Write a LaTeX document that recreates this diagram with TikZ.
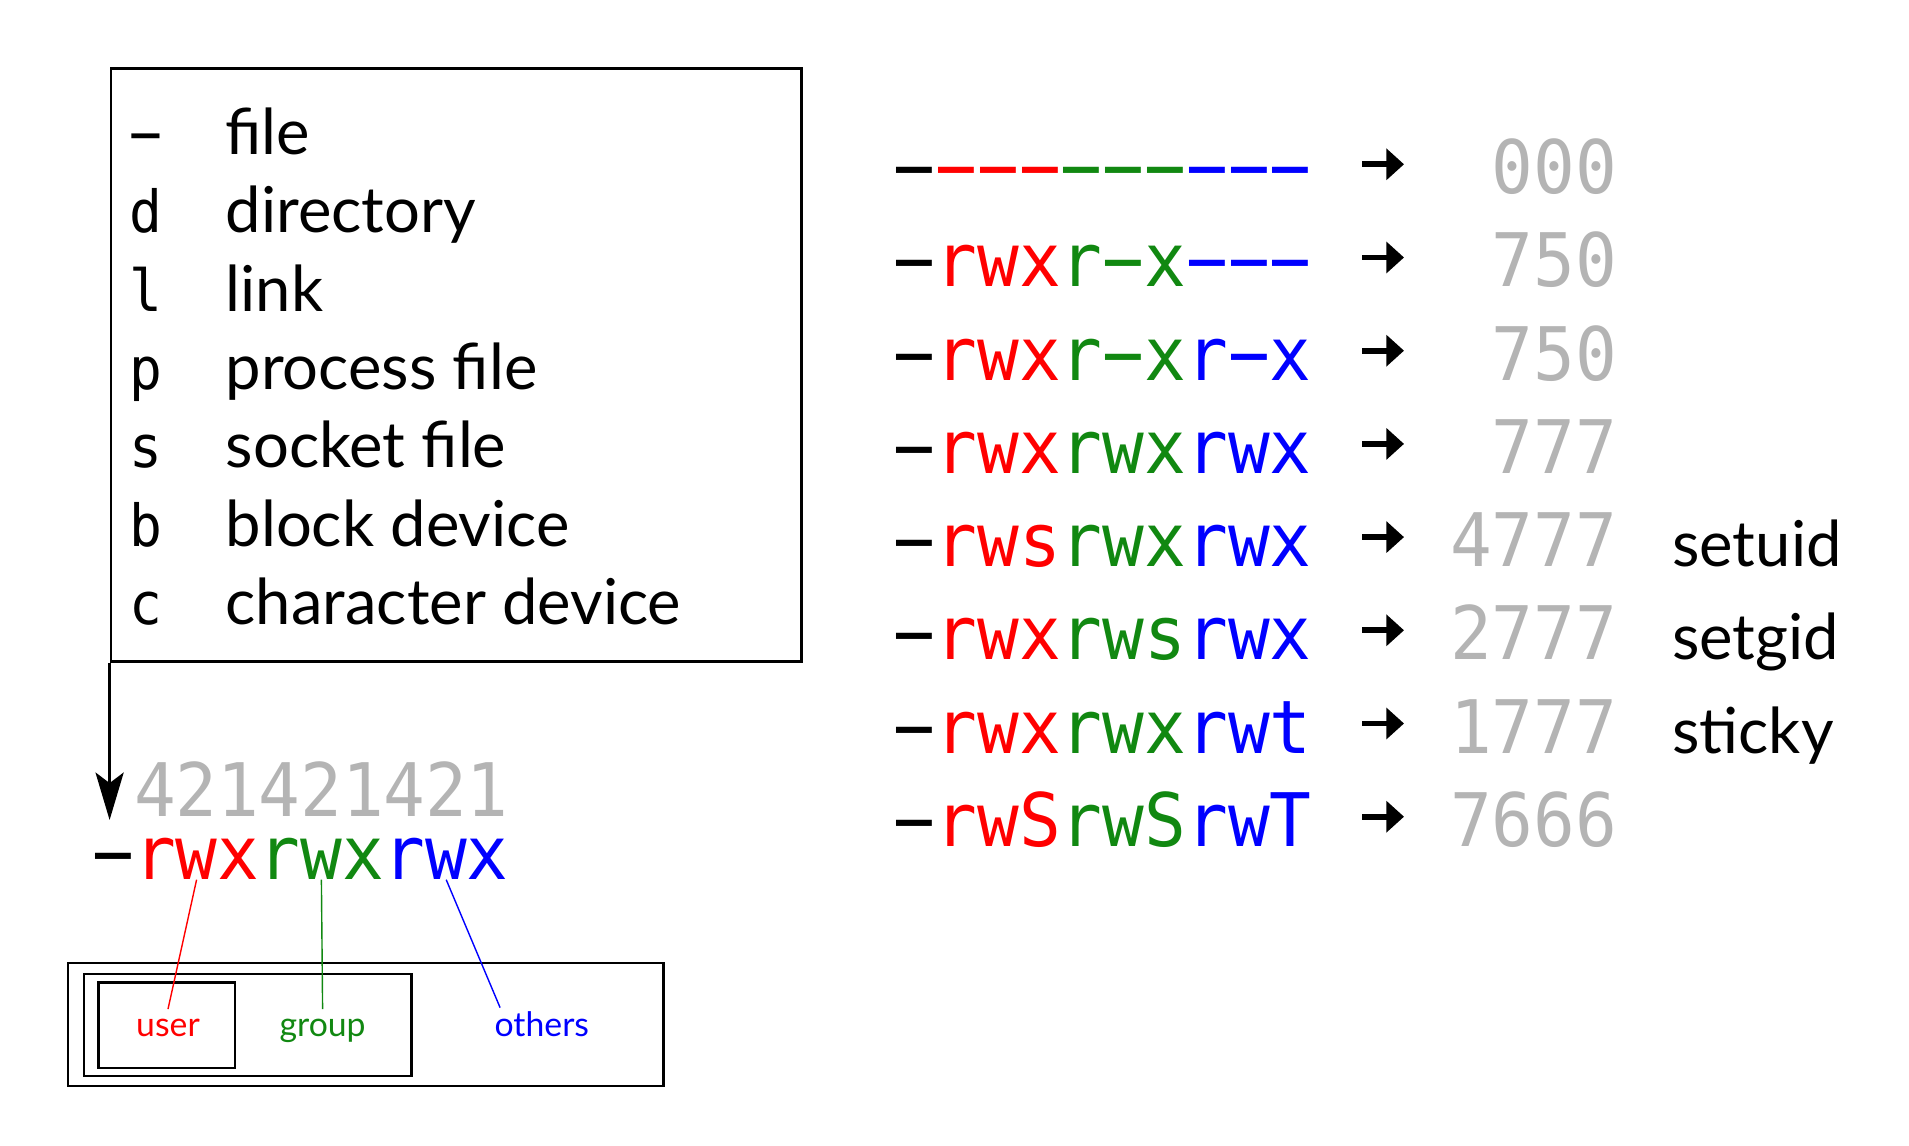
\documentclass[tikz,border=0pt]{standalone}
\usepackage{fontspec}
\setmainfont{Lato}
\newfontfamily\permfont[FakeStretch=0.94]{DejaVu Sans Mono}
\usetikzlibrary{arrows.meta,calc}

\definecolor{permred}{RGB}{255,0,0}
\definecolor{permgreen}{RGB}{17,136,17}
\definecolor{permblue}{RGB}{0,0,255}
\definecolor{permgray}{RGB}{180,180,180}

\newcommand{\nobit}{\symbol{"2212}}
\newcommand{\usr}[1]{\textcolor{permred}{#1}}
\newcommand{\grp}[1]{\textcolor{permgreen}{#1}}
\newcommand{\oth}[1]{\textcolor{permblue}{#1}}

\tikzset{
  bits/.style={font=\permfont\fontsize{21}{21}\selectfont, inner sep=0pt, anchor=base},
  typechar/.style={font=\permfont\fontsize{16.5}{16.5}\selectfont, inner sep=0pt, anchor=base},
  typedesc/.style={font=\fontsize{18}{18}\selectfont, inner sep=0pt, anchor=base west},
  who/.style={font=\fontsize{9.6}{9.6}\selectfont, inner sep=2.5pt, anchor=base},
  bitarrow/.style={-{Triangle[length=5pt,width=8.7pt]}, line width=1.6pt},
  linkarrow/.style={-{Stealth[length=13.5pt,width=8pt,inset=3pt]}, thick}
}

\begin{document}
\begin{tikzpicture}[x=0.01cm,y=-0.01cm]
  \useasboundingbox (0,0) rectangle (1909,1146);
  % Legend of file types
  \node[draw, thick, minimum width=6.904cm, minimum height=5.93cm, anchor=north west] (legend) at (109.6,67) {};
  \foreach \t/\desc [count=\k from 0] in {{\nobit}/file, d/directory, l/link, p/process file, s/socket file, b/block device, c/character device} {
    \node[typechar] (type\k) at (146,154.6+78.3*\k) {\t};
    \node[typedesc] (desc\k) at (225,154.6+78.3*\k) {\desc};
  }
  % Arrow from legend to the type bit
  \coordinate (tip) at (109.6,820);
  \draw[linkarrow] (legend.south west) -- (tip);
  % Weights above the bits
  \foreach \d [count=\k] in {4,2,1,4,2,1,4,2,1}
    \node[bits, text=permgray] (w\k) at (113.4+41.6*\k,816) {\d};
  % The permission string
  \foreach \c/\col [count=\k from 0] in {{\nobit}/black, r/permred, w/permred, x/permred, r/permgreen, w/permgreen, x/permgreen, r/permblue, w/permblue, x/permblue}
    \node[bits, text=\col] (c\k) at (113.4+41.6*\k,879) {\c};
  % Nested classes
  \draw[thick] (68,963) rectangle (663.5,1086);
  \draw[thick] (84,974) rectangle (411.5,1076);
  \draw[thick] (98.6,982.5) rectangle (235,1068);
  \node[who, text=permred] (user) at (168,1036) {user};
  \node[who, text=permgreen] (group) at (322.6,1036) {group};
  \node[who, text=permblue] (others) at (541.8,1036) {others};
  \draw[permred] (c2.south) -- (user.north);
  \draw[permgreen] (c5.south) -- (group.north);
  \draw[permblue] (c8.south) -- ($(others.north west)+(15,6)$);
  % Examples with octal values
  \foreach \str/\num [count=\k from 0] in {
      {\nobit\usr{\nobit\nobit\nobit}\grp{\nobit\nobit\nobit}\oth{\nobit\nobit\nobit}}/000,
      {\nobit\usr{rwx}\grp{r\nobit x}\oth{\nobit\nobit\nobit}}/750,
      {\nobit\usr{rwx}\grp{r\nobit x}\oth{r\nobit x}}/750,
      {\nobit\usr{rwx}\grp{rwx}\oth{rwx}}/777,
      {\nobit\usr{rws}\grp{rwx}\oth{rwx}}/4777,
      {\nobit\usr{rwx}\grp{rws}\oth{rwx}}/2777,
      {\nobit\usr{rwx}\grp{rwx}\oth{rwt}}/1777,
      {\nobit\usr{rwS}\grp{rwS}\oth{rwT}}/7666} {
    \node[bits, anchor=base west] (perm\k) at (893,193.8+93.2*\k) {\str};
    \coordinate (arr\k) at (1362,164.3+93.2*\k);
    \draw[bitarrow] (arr\k) -- ++(42,0);
    \node[bits, anchor=base east, text=permgray] (oct\k) at (1618,193.8+93.2*\k) {\num};
  }
  \node[typedesc] (setuid) at (1671.6,566.6) {setuid};
  \node[typedesc] (setgid) at (1671.6,659.8) {setgid};
  \node[typedesc] (sticky) at (1671.6,753) {sticky};
\end{tikzpicture}
\end{document}
